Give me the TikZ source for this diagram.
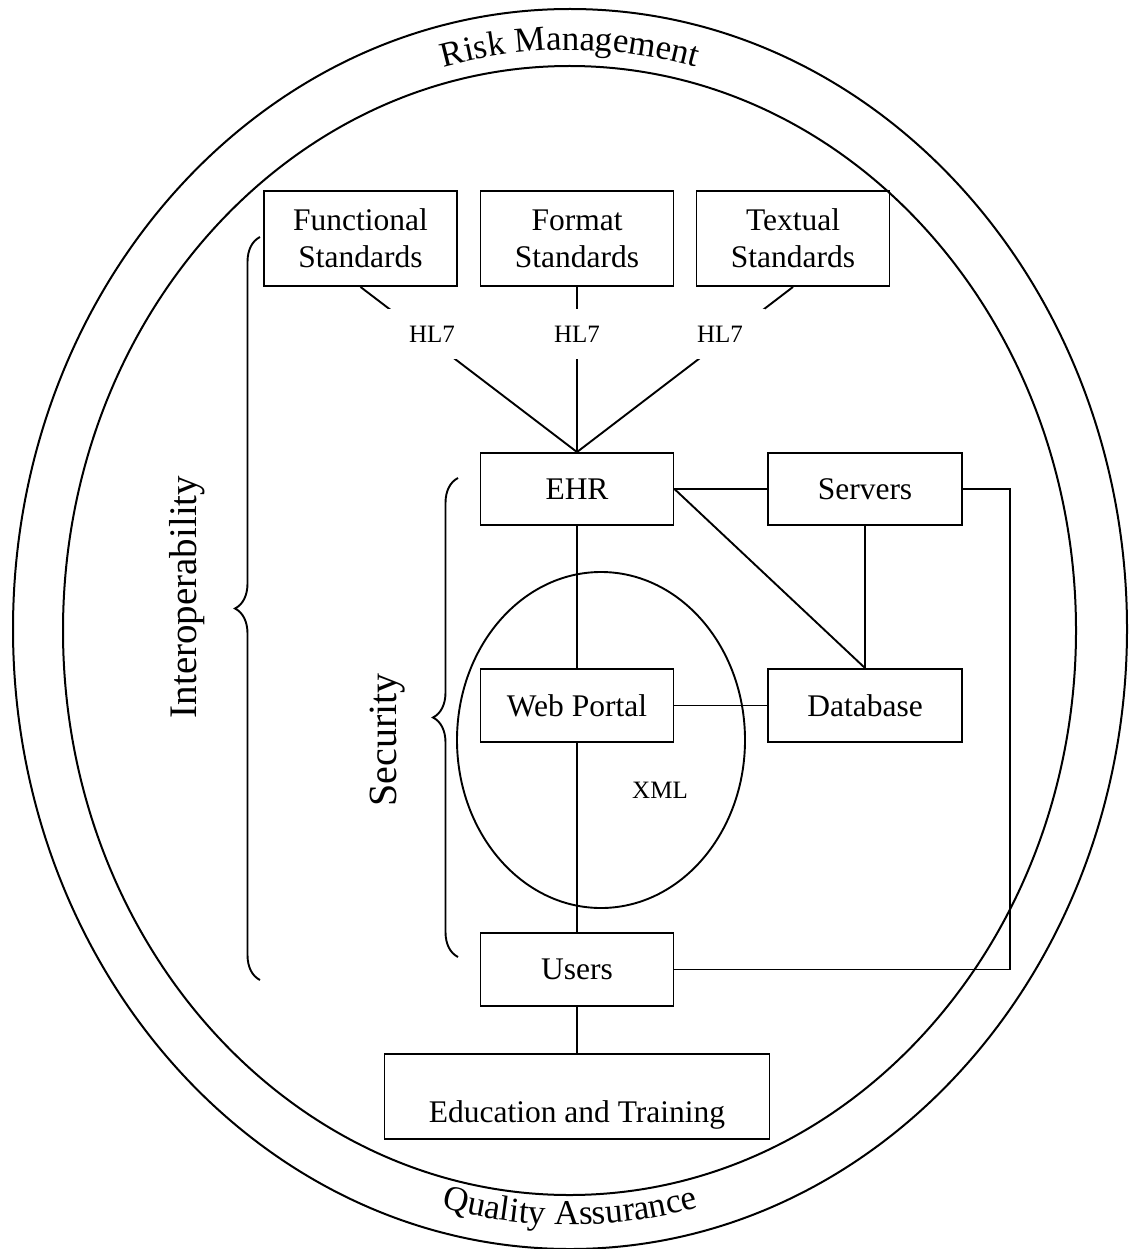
\documentclass[tikz,border=0pt]{standalone}
\usepackage{fontspec}
\setmainfont{Liberation Serif}
\usetikzlibrary{decorations.pathreplacing,decorations.text,shapes.geometric}
\begin{document}
\begin{tikzpicture}[x=1pt,y=-1pt,
  line width=1.9pt,
  box/.style={draw, line width=1.9pt, inner sep=0pt, align=center, font=\fontsize{31.5}{37}\selectfont},
  stdbox/.style={box, minimum width=193pt, minimum height=95pt},
  onebox/.style={box, minimum width=193pt, minimum height=72pt},
  lbl/.style={fill=white, inner sep=0pt, minimum width=90pt, minimum height=50pt, font=\fontsize{25}{30}\selectfont},
  ring/.style={draw, ellipse, line width=2pt, inner sep=0pt},
  bracestyle/.style={decorate, decoration={brace, amplitude=25pt}, line width=1.9pt},
  bigtext/.style={rotate=90, inner sep=0pt}
]
\useasboundingbox (0,0) rectangle (1128,1249);

% rings
\node[ring, minimum width=1114pt, minimum height=1240pt] (outer) at (570,629) {};
\node[ring, minimum width=1013pt, minimum height=1129pt] (inner) at (569.5,630.5) {};

% curved texts
\path[decorate, decoration={text along path, text={|\fontsize{35}{40}\selectfont|Risk Management}, text align=center}]
  (570,629) ++(125:520pt and 579pt) arc[start angle=125, end angle=55, x radius=520pt, y radius=579pt];
\path[decorate, decoration={text along path, text={|\fontsize{35}{40}\selectfont|Quality Assurance}, text align=center}]
  (570,630) ++(235:532pt and 595pt) arc[start angle=235, end angle=305, x radius=532pt, y radius=595pt];

% XML ellipse
\node[ring, line width=1.9pt, minimum width=288pt, minimum height=336pt] (xmlring) at (601,740) {};
\node[font=\fontsize{25}{30}\selectfont, inner sep=0pt] (xml) at (660,790) {XML};

% boxes
\node[stdbox] (fs) at (360.5,238.5) {Functional\\Standards};
\node[stdbox] (fm) at (577,238.5) {Format\\Standards};
\node[stdbox] (ts) at (793,238.5) {Textual\\Standards};
\node[onebox] (ehr) at (577,489) {EHR};
\node[onebox, minimum width=194pt] (srv) at (865,489) {Servers};
\node[onebox, minimum width=194pt, minimum height=73pt] (db) at (865,705.5) {Database};
\node[onebox, minimum height=73pt] (wp) at (577,705.5) {Web Portal};
\node[onebox, minimum height=73pt] (users) at (577,969.5) {Users};
\node[box, minimum width=385pt, minimum height=85pt, text height=51pt, text depth=0pt] (edu) at (577,1096.5) {Education and Training};

% connectors
\draw (fs.south) -- (ehr.north);
\draw (fm.south) -- (ehr.north);
\draw (ts.south) -- (ehr.north);
\draw (ehr.east) -- (srv.west);
\draw (ehr.east) -- (db.north);
\draw (srv.south) -- (db.north);
\draw (ehr.south) -- (wp.north);
\draw (wp.east) -- (db.west);
\draw (wp.south) -- (users.north);
\draw (users.south) -- (edu.north);
\draw (srv.east) -- ++(47,0) |- (users.east);

% HL7 labels
\node[lbl] (hl1) at (432,334) {HL7};
\node[lbl] (hl2) at (577,334) {HL7};
\node[lbl] (hl3) at (720,334) {HL7};

% braces
\coordinate (ib1) at (260,980);
\coordinate (ib2) at (260,237);
\draw[bracestyle] (ib1) -- (ib2);
\coordinate (sb1) at (458,957);
\coordinate (sb2) at (458,478);
\draw[bracestyle] (sb1) -- (sb2);

\node[bigtext, font=\fontsize{39}{44}\selectfont] (interop) at (187,597) {Interoperability};
\node[bigtext, font=\fontsize{40}{44}\selectfont] (sec) at (388,740) {Security};
\end{tikzpicture}
\end{document}
